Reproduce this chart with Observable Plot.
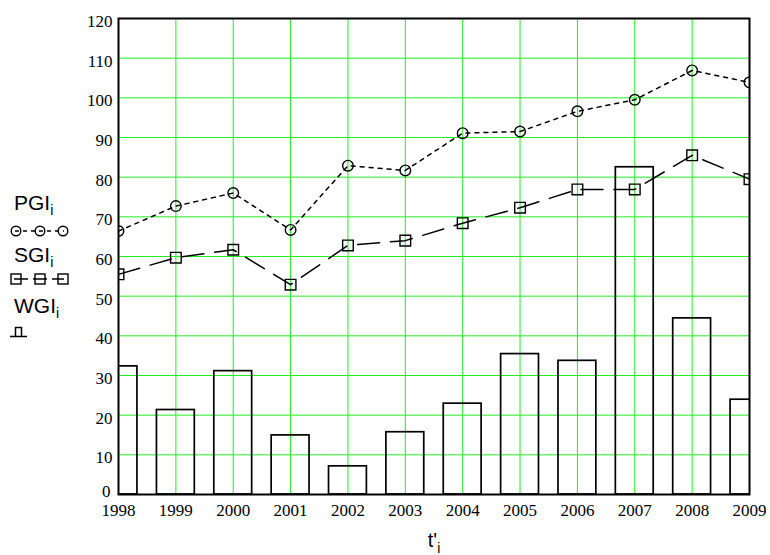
<!DOCTYPE html>
<html>
<head>
<meta charset="utf-8">
<script src="https://cdn.jsdelivr.net/npm/d3@7"></script>
<script src="https://cdn.jsdelivr.net/npm/@observablehq/plot@0.6"></script>
<style>
  html, body { margin: 0; padding: 0; background: #fff; }
  #wrap { position: relative; width: 770px; height: 555px; }
  #legend { position: absolute; left: 0; top: 0; }
  #chart { position: absolute; left: 0; top: 0; }
</style>
</head>
<body>
<div id="wrap">
  <div id="chart"></div>
  <svg id="legend" width="100" height="555" xmlns="http://www.w3.org/2000/svg"></svg>
</div>
<script>
const years = [1998, 1999, 2000, 2001, 2002, 2003, 2004, 2005, 2006, 2007, 2008, 2009];
const PGI = [66.4, 72.7, 76.0, 66.7, 82.9, 81.7, 91.1, 91.5, 96.6, 99.5, 106.9, 103.9];
const SGI = [55.5, 59.7, 61.7, 52.9, 62.8, 64.0, 68.4, 72.3, 76.9, 76.9, 85.5, 79.5];
const WGI = [32.3, 21.3, 31.1, 14.9, 7.1, 15.7, 22.9, 35.4, 33.7, 82.5, 44.4, 23.9];
const yTicks = [0, 10, 20, 30, 40, 50, 60, 70, 80, 90, 100, 110, 120];
const legendNames = ["PGI", "SGI", "WGI"];

const rows = years.map((t, i) => ({t, pgi: PGI[i], sgi: SGI[i], wgi: WGI[i]}));
const halfBar = 0.33;
const green = "#22ee22";
const sans = "Liberation Sans, Arial, sans-serif";
const serif = "Liberation Serif, Times New Roman, DejaVu Serif, serif";

const chart = Plot.plot({
  width: 770,
  height: 555,
  marginLeft: 118,
  marginRight: 21,
  marginTop: 18,
  marginBottom: 61,
  style: {background: "white", color: "black"},
  x: {domain: [1998, 2009]},
  y: {domain: [0, 120]},
  marks: [
    Plot.gridX(years, {stroke: green, strokeOpacity: 1, strokeWidth: 1}),
    Plot.gridY(yTicks, {stroke: green, strokeOpacity: 1, strokeWidth: 1}),
    Plot.rect(rows, {x1: d => d.t - halfBar, x2: d => d.t + halfBar, y1: 0, y2: "wgi",
      fill: "none", stroke: "black", strokeWidth: 1.7, clip: true}),
    Plot.line(rows, {x: "t", y: "pgi", stroke: "black", strokeWidth: 1.5, strokeDasharray: "4,5"}),
    Plot.dot(rows, {x: "t", y: "pgi", symbol: "circle", r: 5.3, stroke: "black", strokeWidth: 1.4, fill: "none", clip: true}),
    Plot.line(rows, {x: "t", y: "sgi", stroke: "black", strokeWidth: 1.5, strokeDasharray: "22,11"}),
    Plot.dot(rows, {x: "t", y: "sgi", symbol: "square", r: 6, stroke: "black", strokeWidth: 1.4, fill: "none", clip: true}),
    Plot.frame({stroke: "black", strokeWidth: 2}),
    Plot.axisX(years, {tickSize: 0, tickPadding: 9, tickFormat: d => String(d), label: null}),
    Plot.axisY(yTicks.filter(v => v > 0), {tickSize: 0, tickPadding: 6, dy: 3, label: null}),
    Plot.axisY([0], {tickSize: 0, tickPadding: 8, dy: -3, label: null}),
    Plot.text(["t'"], {frameAnchor: "bottom", dy: 52, text: d => d, fontFamily: sans, fontSize: 20})
  ]
});
document.getElementById("chart").appendChild(chart);

// serif numeric tick labels (inline style)
d3.select(chart).selectAll("text")
  .filter(function() { return /^\d+$/.test(this.textContent.trim()); })
  .style("font-family", serif)
  .style("font-size", "17px");

// subscript i on x-axis label
const svgNS = "http://www.w3.org/2000/svg";
d3.select(chart).selectAll("text").filter(function() { return this.textContent === "t'"; })
  .each(function() {
    const ts = document.createElementNS(svgNS, "tspan");
    ts.setAttribute("font-size", "14");
    ts.setAttribute("dy", "6");
    ts.textContent = "i";
    this.appendChild(ts);
  });

// Legend (left side)
const leg = d3.select("#legend");
const baselines = [210, 262, 313];
legendNames.forEach((name, k) => {
  const t = leg.append("text").attr("x", 14).attr("y", baselines[k])
    .style("font-family", sans).style("font-size", "21px").attr("fill", "black").text(name);
  t.append("tspan").style("font-size", "14px").attr("dy", 5).text("i");
});
// PGI glyph
leg.append("line").attr("x1", 15).attr("x2", 64).attr("y1", 231).attr("y2", 231)
  .attr("stroke", "black").attr("stroke-width", 1.3).attr("stroke-dasharray", "4,4");
[16, 40, 63].forEach(cx => leg.append("circle").attr("cx", cx).attr("cy", 231).attr("r", 4.8)
  .attr("fill", "none").attr("stroke", "black").attr("stroke-width", 1.4));
// SGI glyph
leg.append("line").attr("x1", 14).attr("x2", 64).attr("y1", 279).attr("y2", 279)
  .attr("stroke", "black").attr("stroke-width", 1.4).attr("stroke-dasharray", "14,5");
[16, 40, 63].forEach(cx => leg.append("rect").attr("x", cx - 5).attr("y", 274).attr("width", 10).attr("height", 10)
  .attr("fill", "none").attr("stroke", "black").attr("stroke-width", 1.4));
// WGI glyph
leg.append("path").attr("d", "M10,336.5 H27 M15.5,336.5 V327.5 H21.5 V336.5")
  .attr("fill", "none").attr("stroke", "black").attr("stroke-width", 1.5);
</script>
</body>
</html>
